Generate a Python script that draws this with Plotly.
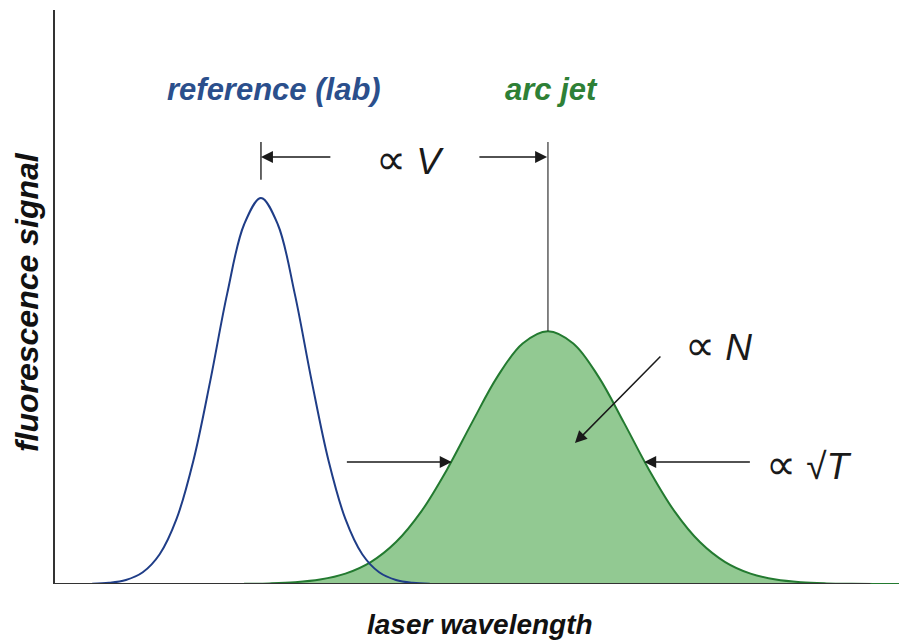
import plotly.graph_objects as go

# Reference (lab) profile
ref_wavelength = [4, 6, 8, 10, 12, 14, 16, 18, 20, 22, 24, 26, 28, 30, 32, 34, 36, 38, 40, 42, 44]
ref_signal = [0.0008, 0.0031, 0.0105, 0.0305, 0.0771, 0.1686, 0.3201, 0.5269, 0.7522, 0.9313, 1.0,
              0.9313, 0.7522, 0.5269, 0.3201, 0.1686, 0.0771, 0.0305, 0.0105, 0.0031, 0.0008]

# Arc jet profile
arc_wavelength = [22, 25, 28, 31, 34, 37, 40, 43, 46, 49, 52, 55, 58, 61, 64, 67, 70, 73, 76, 79,
                  82, 85, 88, 91, 94, 97, 100]
arc_signal = [0.0005, 0.0016, 0.0045, 0.0115, 0.0269, 0.0569, 0.1088, 0.1883, 0.2950, 0.4181,
              0.5366, 0.6232, 0.655, 0.6232, 0.5366, 0.4181, 0.2950, 0.1883, 0.1088, 0.0569,
              0.0269, 0.0115, 0.0045, 0.0016, 0.0005, 0.0001, 0.0]

ref_label = "reference (lab)"
arc_label = "arc jet"
x_title = "laser wavelength"
y_title = "fluorescence signal"

BLUE_LINE = "#1f3d87"
BLUE_TEXT = "#2b4f8c"
GREEN_LINE = "#237a30"
GREEN_TEXT = "#2e8036"
GREEN_FILL = "#92c992"
INK = "#1a1a1a"
FAM = "Liberation Sans, Arial, sans-serif"
PROP = "<span style='font-size:42px'>∝</span>"

fig = go.Figure()
fig.add_trace(go.Scatter(x=arc_wavelength, y=arc_signal, mode="lines",
                         line=dict(color=GREEN_LINE, width=2, shape="spline"),
                         fill="tozeroy", fillcolor=GREEN_FILL, hoverinfo="skip"))
fig.add_trace(go.Scatter(x=ref_wavelength, y=ref_signal, mode="lines",
                         line=dict(color=BLUE_LINE, width=2, shape="spline"), hoverinfo="skip"))

XR = [-0.4, 100.3]
YR = [0, 1.487]

ref_peak_x = ref_wavelength[ref_signal.index(max(ref_signal))]
arc_peak_x = arc_wavelength[arc_signal.index(max(arc_signal))]
arc_peak_y = max(arc_signal)
half = 0.316

shapes = [
    dict(type="line", x0=XR[0], x1=96.2, y0=0, y1=0, xref="x", yref="y",
         line=dict(color="#333333", width=2)),
    dict(type="line", x0=ref_peak_x, x1=ref_peak_x, y0=1.047, y1=1.145,
         line=dict(color="#333333", width=1.5)),
    dict(type="line", x0=arc_peak_x, x1=arc_peak_x, y0=arc_peak_y, y1=1.145,
         line=dict(color="#333333", width=1.2)),
]

def arrow(x_head, y_head, x_tail, y_tail):
    return dict(x=x_head, y=y_head, ax=x_tail, ay=y_tail, xref="x", yref="y",
                axref="x", ayref="y", text="", showarrow=True, arrowhead=2,
                arrowsize=1.6, arrowwidth=1.5, arrowcolor=INK)

tfont = dict(family=FAM, size=37, color=INK)
annotations = [
    arrow(ref_peak_x, 1.106, 32.4, 1.106),
    arrow(arc_peak_x - 0.1, 1.106, 49.7, 1.106),
    arrow(46.6, half, 34.0, half),
    arrow(69.4, half, 82.1, half),
    arrow(61.2, 0.365, 71.5, 0.593),
    dict(x=41.7, y=1.100, xref="x", yref="y", text=f"{PROP} <i>V</i>", showarrow=False, font=tfont),
    dict(x=78.2, y=0.618, xref="x", yref="y", text=f"{PROP} <i>N</i>", showarrow=False, font=tfont),
    dict(x=88.9, y=0.310, xref="x", yref="y", text=f"{PROP} √<i>T</i>", showarrow=False, font=tfont),
    dict(x=25.6, y=1.28, xref="x", yref="y", text=f"<b><i>{ref_label}</i></b>", showarrow=False,
         font=dict(family=FAM, size=31, color=BLUE_TEXT)),
    dict(x=58.4, y=1.28, xref="x", yref="y", text=f"<b><i>{arc_label}</i></b>", showarrow=False,
         font=dict(family=FAM, size=31, color=GREEN_TEXT)),
    dict(x=0.5, y=-0.0714, xref="paper", yref="paper", text=f"<b><i>{x_title}</i></b>",
         xanchor="center", yanchor="middle",
         showarrow=False, font=dict(family=FAM, size=28, color="#111111")),
    dict(x=-0.033, y=0.491, xref="paper", yref="paper", text=f"<b><i>{y_title}</i></b>",
         xanchor="center", yanchor="middle",
         textangle=-90, showarrow=False,
         font=dict(family=FAM, size=32, color="#111111")),
]

# page body has an ~8px default margin, so size and margins compensate for it
fig.update_layout(
    width=899, height=636,
    margin=dict(l=47, r=2, t=2, b=60),
    paper_bgcolor="white", plot_bgcolor="white",
    showlegend=False,
    xaxis=dict(range=XR, showgrid=False, zeroline=False, showline=False, showticklabels=False, ticks=""),
    yaxis=dict(range=YR, showgrid=False, zeroline=False, showline=True, linecolor="#333333",
               linewidth=2, showticklabels=False, ticks=""),
    shapes=shapes,
    annotations=annotations,
)

fig.write_html("out.html")
